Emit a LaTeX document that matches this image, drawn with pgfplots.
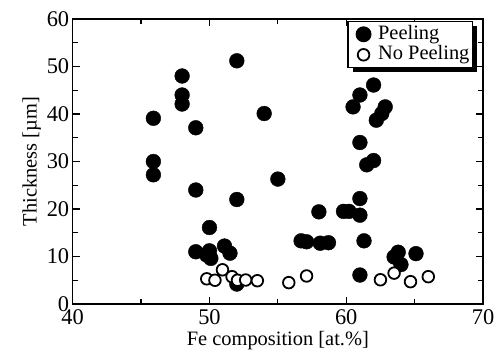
\documentclass[border=0pt]{standalone}
\usepackage{pgfplots}
\pgfplotsset{compat=1.18}
\usepackage{fontspec}
\setmainfont{Liberation Serif}
\usetikzlibrary{calc,shadows}
\begin{document}
\begin{tikzpicture}
\begin{axis}[
  scale only axis,
  width=410.3bp, height=285bp,
  xmin=40, xmax=70, ymin=0, ymax=60,
  xtick={40,50,60,70}, ytick={0,10,20,30,40,50,60},
  minor xtick={45,55,65}, minor ytick={5,15,25,35,45,55},
  tick align=inside,
  major tick length=7bp, minor tick length=5bp,
  axis line style={line width=1.4bp},
  every tick/.style={line width=1.2bp, black},
  /pgf/number format/assume math mode=true,
  tick label style={font=\fontsize{22.5}{24}\selectfont},
  label style={font=\fontsize{20.5}{22}\selectfont},
  xlabel={Fe composition [at.\%]},
  ylabel={Thickness [µm]},
  ylabel style={yshift=-1bp},
  xticklabel style={yshift=-2bp},
  legend style={at={(0.9756,0.993)}, anchor=north east,
    draw=black, line width=1.1bp, inner xsep=0bp, inner ysep=2.5bp, fill=white,
    font=\fontsize{20.5}{21}\selectfont,
    drop shadow={shadow xshift=4.5bp, shadow yshift=-4.5bp, fill=black, opacity=1},
    row sep=0bp,
    nodes={inner xsep=3bp, inner ysep=0.5bp, text height=14.5bp, text depth=5bp}},
  legend cell align=left,
  legend image code/.code={\draw[#1] plot coordinates {(0bp,0bp)}; \path (-15bp,0bp) (11bp,0bp);},
  clip=false,
]
\coordinate (sw) at (rel axis cs:0,0);
\coordinate (ne) at (rel axis cs:1,1);
\addplot[only marks, mark=*, mark size=7.4bp, mark options={fill=black, draw=black}] coordinates {
(45.9,39.1) (45.9,30.0) (45.9,27.2)
(48.0,48.0) (48.0,44.0) (48.0,42.1)
(49.0,37.1) (49.0,24.0)
(52.0,51.2) (52.0,22.0)
(50.0,16.1) (49.0,11.0) (49.8,10.3) (50.0,11.2) (50.1,9.6)
(51.1,12.2) (51.5,10.7) (52.0,4.2)
(54.0,40.1) (55.0,26.3)
(56.7,13.3) (57.1,13.1) (58.0,19.4) (58.1,12.8) (58.7,12.9)
(59.8,19.5) (60.2,19.5) (61.0,18.7) (61.0,22.2) (61.3,13.3) (61.0,6.1)
(62.0,46.1) (61.0,44.0) (60.5,41.5) (62.85,41.5) (62.6,40.1) (62.2,38.7)
(61.0,34.0) (62.0,30.2) (61.5,29.3)
(63.8,10.9) (63.5,9.9) (64.0,8.3) (65.1,10.6)
};
\addlegendentry{Peeling}
\addplot[only marks, mark=*, mark size=5.8bp, mark options={fill=white, draw=black, line width=1.8bp}] coordinates {
(49.8,5.3) (50.4,5.0) (50.95,7.2) (51.65,5.75) (52.05,5.0) (52.65,5.05)
(53.5,4.9) (55.8,4.5) (57.1,5.9)
(62.5,5.1) (63.5,6.5) (64.7,4.7) (66.0,5.75)
};
\addlegendentry{No Peeling}
\end{axis}
\pgfresetboundingbox
\path ($(sw)+(-72.7bp,-54bp)$) rectangle ($(ne)+(19bp,19bp)$);
\end{tikzpicture}
\end{document}
